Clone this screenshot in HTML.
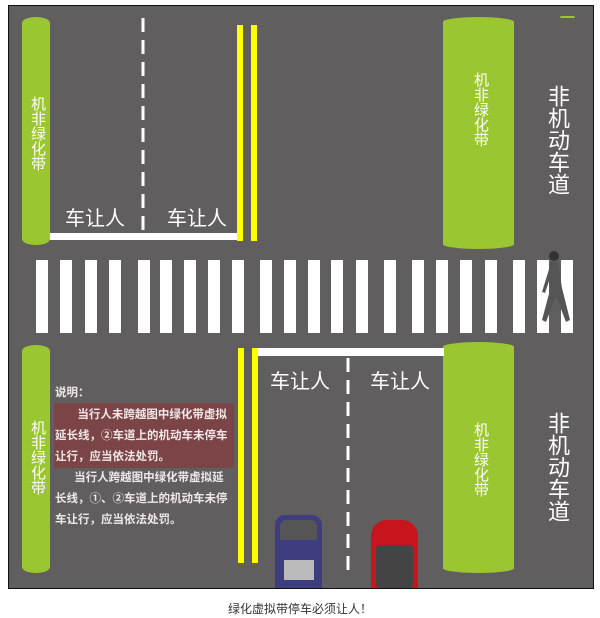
<!DOCTYPE html><html><head><meta charset="utf-8"><style>
*{margin:0;padding:0;box-sizing:border-box}
body{width:600px;height:618px;background:#fff;position:relative;overflow:hidden;font-family:"Liberation Sans","Noto Sans CJK SC",sans-serif}
.a{position:absolute}
.road{left:8px;top:5px;width:586px;height:584px;background:#605e5f;border:1px solid #111}
.g{background:#9ac731;border-radius:14px/6px}
.y{background:#ffff00}
.w{background:#fff}
.v{color:#fff;writing-mode:vertical-rl;text-orientation:upright;letter-spacing:0}
.t{color:#fff;font-size:20px}
.s{color:#f0e8e8;font-size:11.5px;font-weight:bold;line-height:21px}
</style></head><body>
<div class="a road"></div>
<div class="a g" style="left:22px;top:17px;width:28px;height:228px"></div>
<div class="a v" style="left:27px;top:96px;font-size:15px;color:#fff">机非绿化带</div>
<div class="a g" style="left:443px;top:17px;width:71px;height:232px;border-radius:36px/5px"></div>
<div class="a v" style="left:470px;top:72px;font-size:15px;color:#fff">机非绿化带</div>
<div class="a v" style="left:545px;top:85px;font-size:22px;line-height:24px">非机动车道</div>
<div class="a g" style="left:560px;top:16px;width:15px;height:2px"></div>
<svg class="a" style="left:0;top:0" width="600" height="618">
<line x1="143" y1="18" x2="143" y2="232" stroke="#fff" stroke-width="3" stroke-dasharray="14,8"/>
<line x1="348" y1="358" x2="348" y2="572" stroke="#fff" stroke-width="3" stroke-dasharray="14,8"/>
</svg>
<div class="a w" style="left:50px;top:233px;width:190px;height:7px"></div>
<div class="a y" style="left:237px;top:25px;width:6px;height:216px"></div>
<div class="a y" style="left:251px;top:25px;width:6px;height:216px"></div>
<div class="a t" style="left:65px;top:202px">车让人</div>
<div class="a t" style="left:167px;top:202px">车让人</div>
<div id="cw"></div>
<div class="a g" style="left:22px;top:345px;width:28px;height:228px"></div>
<div class="a v" style="left:27px;top:420px;font-size:15px;color:#fff">机非绿化带</div>
<div class="a g" style="left:443px;top:342px;width:71px;height:231px;border-radius:36px/5px"></div>
<div class="a v" style="left:470px;top:422px;font-size:15px;color:#fff">机非绿化带</div>
<div class="a v" style="left:545px;top:412px;font-size:22px;line-height:24px">非机动车道</div>
<div class="a y" style="left:238px;top:348px;width:6px;height:215px"></div>
<div class="a y" style="left:252px;top:348px;width:6px;height:215px"></div>
<div class="a w" style="left:258px;top:348px;width:186px;height:8px"></div>
<div class="a t" style="left:270px;top:365px">车让人</div>
<div class="a t" style="left:370px;top:365px">车让人</div>
<div class="a s" style="left:55px;top:383px">说明：</div>
<div class="a" style="left:54px;top:403px;width:180px;height:65px;background:#7b4446"></div>
<div class="a s" style="left:55px;top:405px;width:180px">&nbsp;&nbsp;&nbsp;&nbsp;&nbsp;&nbsp;&nbsp;当行人未跨越图中绿化带虚拟延长线，②车道上的机动车未停车让行，应当依法处罚。</div>
<div class="a s" style="left:55px;top:468px;width:180px">&nbsp;&nbsp;&nbsp;&nbsp;&nbsp;&nbsp;当行人跨越图中绿化带虚拟延长线，①、②车道上的机动车未停车让行，应当依法处罚。</div>
<div class="a" style="left:275px;top:515px;width:47px;height:73px;background:#3e3d80;border-radius:10px 10px 0 0"></div>
<div class="a" style="left:280px;top:520px;width:37px;height:20px;background:#555;border-radius:6px 6px 2px 2px"></div>
<div class="a" style="left:284px;top:560px;width:30px;height:20px;background:#bbb"></div>
<div class="a" style="left:371px;top:520px;width:47px;height:68px;background:#c8141c;border-radius:16px 16px 0 0"></div>
<div class="a" style="left:376px;top:545px;width:37px;height:43px;background:#444;border-radius:4px"></div>
<svg class="a" style="left:536px;top:248px" width="40" height="80"><circle cx="18" cy="8" r="5" fill="#333"/><path d="M14 14 L22 14 L26 40 L34 72 L30 74 L20 48 L10 74 L6 72 L14 42 Z" fill="#555"/><path d="M14 18 L6 44 L9 45 L16 24 Z" fill="#555"/></svg>
<div class="a" style="left:0;top:600px;width:600px;text-align:center;font-size:12px;color:#333">绿化虚拟带停车必须让人！</div>
<script>
var xs=[36,60,85,109,138,160,184,208,232,260,284,308,331,356,384,412,436,460,485,513,537,561],h="";
xs.forEach(function(x){h+='<div class="a w" style="left:'+x+'px;top:260px;width:12px;height:73px"></div>'});
document.getElementById("cw").outerHTML=h;
</script>
</body></html>
